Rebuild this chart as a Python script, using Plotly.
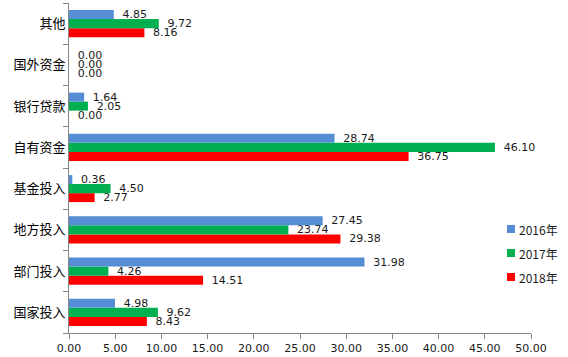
import plotly.graph_objects as go

categories = ["国家投入", "部门投入", "地方投入", "基金投入", "自有资金", "银行贷款", "国外资金", "其他"]
series_names = ["2016年", "2017年", "2018年"]
v2016 = [4.98, 31.98, 27.45, 0.36, 28.74, 1.64, 0.00, 4.85]
v2017 = [9.62, 4.26, 23.74, 4.50, 46.10, 2.05, 0.00, 9.72]
v2018 = [8.43, 14.51, 29.38, 2.77, 36.75, 0.00, 0.00, 8.16]
colors = ["#558ED5", "#00B050", "#FF0000"]

num_font = "DejaVu Sans, Verdana, sans-serif"
cjk_font = "Noto Sans CJK SC, sans-serif"

W, H = 568, 357
ML, MR, MT, MB = 69, 37, 3, 24
PW, PH = W - ML - MR, H - MT - MB

def px_x(p):
    return (p - ML) / PW

def px_y(p):
    return (H - MB - p) / PH

fig = go.Figure()
data = [v2016, v2017, v2018]
for name, vals, col in reversed(list(zip(series_names, data, colors))):
    fig.add_trace(go.Bar(
        y=categories, x=vals, name=name, orientation="h",
        marker=dict(color=col, line=dict(width=0)),
        text=["\u00a0\u2009" + f"{v:.2f}" for v in vals], textposition="outside",
        textfont=dict(family=num_font, size=11, color="#1a1a1a"),
        constraintext="none", cliponaxis=False, showlegend=False,
        hoverinfo="skip",
    ))

# custom legend (Excel-like: small square, text close to it)
shapes = []
annotations = []
leg_y = [229, 253, 277]
for name, col, yc in zip(series_names, colors, leg_y):
    shapes.append(dict(type="rect", xref="paper", yref="paper",
                       x0=px_x(507), x1=px_x(515), y0=px_y(yc + 4), y1=px_y(yc - 4),
                       fillcolor=col, line=dict(width=0)))
    annotations.append(dict(xref="paper", yref="paper", x=px_x(517), y=px_y(yc),
                            xanchor="left", yanchor="middle", showarrow=False,
                            text=name, font=dict(family=cjk_font, size=12, color="#1a1a1a")))

fig.update_layout(
    width=W, height=H,
    margin=dict(l=ML, r=MR, t=MT, b=MB),
    paper_bgcolor="white", plot_bgcolor="white",
    barmode="group", bargap=0.345, bargroupgap=0,
    showlegend=False,
    shapes=shapes, annotations=annotations,
    xaxis=dict(range=[0, 50], dtick=5, tickformat=".2f", automargin=False,
               showgrid=False, zeroline=False,
               showline=True, linecolor="#868686", linewidth=1,
               ticks="outside", ticklen=5, tickcolor="#868686",
               tickfont=dict(family=num_font, size=11, color="#1a1a1a")),
    yaxis=dict(type="category", showgrid=False, zeroline=False, automargin=False,
               showline=True, linecolor="#868686", linewidth=1,
               ticks="outside", ticklen=5, tickcolor="#868686",
               tickson="boundaries",
               tickfont=dict(family=cjk_font, size=13, color="#000000")),
    font=dict(family=cjk_font),
)

fig.write_html("out.html", config={"displayModeBar": False},
               post_script="document.body.style.margin='0';document.body.style.overflow='hidden';")
